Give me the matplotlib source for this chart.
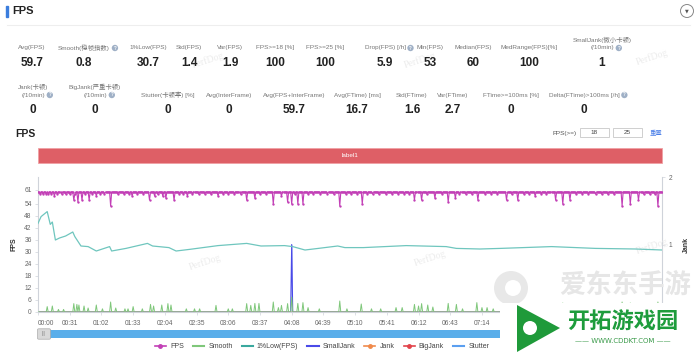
import numpy as np
import matplotlib
matplotlib.use('Agg')
import matplotlib.pyplot as plt
from matplotlib.lines import Line2D
from matplotlib.patches import Rectangle, Circle, Polygon, FancyBboxPatch
from matplotlib.transforms import IdentityTransform

plt.rcParams['font.family'] = ['Liberation Sans', 'Noto Sans CJK SC']

W, H = 700, 354

# ---- stats panel ----
row1_labels = ['Avg(FPS)', 'Smooth(稳帧指数)', '1%Low(FPS)', 'Std(FPS)', 'Var(FPS)', 'FPS>=18 [%]',
               'FPS>=25 [%]', 'Drop(FPS) [/h]', 'Min(FPS)', 'Median(FPS)', 'MedRange(FPS)[%]',
               'SmallJank(微小卡顿)\n(/10min)']
row1_values = ['59.7', '0.8', '30.7', '1.4', '1.9', '100', '100', '5.9', '53', '60', '100', '1']
row1_help = [False, True, False, False, False, False, False, True, False, False, False, True]
row1_x = [32, 84, 148, 189, 230, 275, 325, 385, 430, 473, 529, 602]

row2_labels = ['Jank(卡顿)\n(/10min)', 'BigJank(严重卡顿)\n(/10min)', 'Stutter(卡顿率) [%]', 'Avg(InterFrame)',
               'Avg(FPS+InterFrame)', 'Avg(FTime) [ms]', 'Std(FTime)', 'Var(FTime)', 'FTime>=100ms [%]',
               'Delta(FTime)>100ms [/h]']
row2_values = ['0', '0', '0', '0', '59.7', '16.7', '1.6', '2.7', '0', '0']
row2_help = [True, True, False, False, False, False, False, False, False, True]
row2_x = [33, 95, 168, 229, 294, 357, 412, 453, 511, 584]

# ---- time series (one point per second) ----
n_sec = 611
fps_base = 60
small_dip_t = [2, 5, 8, 13, 19, 23, 27, 31, 36, 46, 53, 61, 65, 78, 84, 89, 97, 103, 117, 138, 142,
               151, 157, 163, 169, 181, 186, 192, 198, 217, 223, 251, 264, 269, 276, 283, 289, 301,
               306, 312, 322, 327, 333, 340, 346, 352, 358, 363, 380, 395, 412, 418, 424, 437, 443,
               449, 463, 475, 480, 492, 497, 526, 532, 538, 545, 551, 557, 563, 592, 598, 603]
small_dip_v = 59
dip_t = [10, 16, 35, 39, 43, 50, 57, 71, 92, 109, 114, 122, 125, 133, 146, 176, 204, 212, 230, 238,
         244, 248, 254, 259, 295, 317, 368, 375, 388, 401, 408, 430, 458, 469, 486, 506, 513, 520,
         571, 579, 587, 606]
dip_v = [59, 58, 56, 55, 56, 56, 58, 53, 58, 56, 58, 58, 57, 56, 58, 58, 56, 57, 54, 58,
         55, 54, 54, 54, 53, 54, 56, 56, 57, 55, 57, 56, 56, 56, 58, 56, 54, 56,
         53, 54, 56, 53]

low_t = [0, 3, 9, 12, 14, 17, 21, 27, 34, 36, 42, 49, 57, 70, 72, 86, 107, 112, 128, 135, 148, 176,
         204, 218, 241, 249, 261, 274, 293, 300, 318, 360, 399, 409, 432, 452, 502, 545, 584, 610]
low_v = [44.3, 47.7, 50.2, 43.8, 45, 36, 37, 38, 40, 37.7, 33, 32.7, 30.5, 32.7, 30.5, 31.8, 34.3,
         33, 32.2, 30.5, 31.3, 33.2, 34.3, 33, 33.2, 32.7, 31, 31.8, 33, 32.2, 32.2, 33.2, 32.7,
         31.8, 31.5, 31.8, 32.7, 31.8, 31.5, 31]

smooth_t = [9, 14, 20, 25, 35, 38, 40, 45, 49, 57, 63, 71, 76, 85, 88, 93, 102, 110, 113, 121, 127,
            130, 145, 153, 158, 174, 186, 190, 204, 208, 212, 216, 230, 235, 238, 244, 248, 254,
            259, 264, 275, 295, 302, 316, 326, 335, 350, 356, 368, 372, 375, 381, 386, 401, 409,
            415, 429, 434, 439, 445, 458, 466, 469, 478, 486, 494, 506, 513, 520, 530, 545, 556,
            571, 579, 587, 597, 606]
smooth_v = [2.7, 3, 1.3, 1.3, 4.2, 3.8, 3.5, 3, 2, 3.5, 1.6, 5, 2, 1.6, 1.6, 2.7, 1.6, 3.8, 3,
            3.5, 4.2, 3.5, 1.6, 1.6, 1.6, 3.3, 1.6, 1.6, 4.2, 3.3, 4.3, 4.3, 5, 2.2, 3.3, 4.2, 7.5,
            4.3, 4.7, 2.2, 1.6, 5.5, 1.6, 4, 1.6, 1.6, 2.2, 2.2, 3.8, 3, 4.2, 3.5, 2.5, 4.3, 3.8,
            1.6, 4.7, 2.2, 2.2, 1.6, 3.5, 2, 3.5, 2, 2.5, 1.6, 3.5, 4.5, 3.5, 2, 2.5, 2, 5, 4.5, 3.5,
            2, 5]

smalljank_t = [248]
smalljank_v = [1]

tick_sec = list(range(0, 600, 31))
tick_lab = ['%02d:%02d' % (s // 60, s % 60) for s in tick_sec]

t = np.arange(n_sec)
fps = np.full(n_sec, float(fps_base))
fps[small_dip_t] = small_dip_v
fps[dip_t] = dip_v
smooth = np.zeros(n_sec)
smooth[smooth_t] = smooth_v
smalljank = np.zeros(n_sec)
smalljank[smalljank_t] = smalljank_v
zeros = np.zeros(n_sec)

c_fps = '#c23fb6'
c_smooth = '#7fc77a'
c_low = '#6fc6be'
c_small = '#4a4ae8'
c_jank = '#f08a4b'
c_big = '#e2434b'
c_stut = '#5b9ff0'

fig = plt.figure(figsize=(7, 3.54), dpi=100)
renderer = fig.canvas.get_renderer()


def px(x, y):
    return x / W, 1 - y / H


# header
fig.add_artist(Rectangle(px(6, 17), 2 / W, 11 / H, color='#3b7ddd', transform=fig.transFigure))
fig.text(*px(12, 11), 'FPS', fontsize=8, fontweight='bold', va='center', color='#222')
fig.add_artist(Line2D([7 / W, 690 / W], [1 - 25 / H] * 2, color='#eeeeee', lw=0.8))
fig.add_artist(Circle((687, H - 11), 6.5, transform=IdentityTransform(), fc='white', ec='#888', lw=0.7))
fig.text(*px(687, 11), '▼', fontsize=3.5, ha='center', va='center', color='#555', family='DejaVu Sans')


def stat(x, ylab, yval, lab, val, helpq):
    lines = lab.split('\n')
    y0 = ylab - 4 * (len(lines) - 1)
    for i, ln in enumerate(lines):
        txt = fig.text(*px(x, y0 + 8 * i), ln, fontsize=4.6, ha='center', va='center', color='#777')
    if helpq:
        wl = txt.get_window_extent(renderer).width
        fig.text(*px(x + wl / 2 + 5, y0 + 8 * (len(lines) - 1)), '?', fontsize=3.3, ha='center',
                 va='center', color='white', fontweight='bold',
                 bbox=dict(boxstyle='circle,pad=0.15', fc='#9fb0c6', ec='none'))
    fig.text(*px(x, yval), val, fontsize=8.5, ha='center', va='center', color='#222', fontweight='bold')


for x, lab, val, hq in zip(row1_x, row1_labels, row1_values, row1_help):
    stat(x, 44 if '\n' in lab else 48, 63, lab, val, hq)
for x, lab, val, hq in zip(row2_x, row2_labels, row2_values, row2_help):
    stat(x, 91 if '\n' in lab else 95, 110, lab, val, hq)

# chart section header
fig.text(*px(15, 134), 'FPS', fontsize=7.5, fontweight='bold', va='center', color='#222')
fig.text(*px(577, 133), 'FPS(>=)', fontsize=4.6, ha='right', va='center', color='#555')
for bx, bv in [(580, '18'), (613, '25')]:
    fig.add_artist(Rectangle(px(bx, 137), 29 / W, 9 / H, transform=fig.transFigure, fc='white',
                             ec='#c8c8c8', lw=0.6))
    fig.text(*px(bx + 14.5, 132.5), bv, fontsize=4.6, ha='center', va='center', color='#444')
fig.text(*px(650, 133), '重置', fontsize=4.6, va='center', color='#4a7ee8')

# label bar
fig.add_artist(Rectangle(px(38, 163), 624 / W, 15 / H, transform=fig.transFigure, fc='#de5f66',
                         ec='#f0a0a4', lw=0.6))
fig.text(*px(350, 155.5), 'label1', fontsize=4.6, ha='center', va='center', color='white')

# main plot
ax = fig.add_axes([38 / W, 1 - 312 / H, 624 / W, 135 / H])
ax2 = ax.twinx()
ax.set_zorder(ax2.get_zorder() + 1)
ax.patch.set_visible(False)

ax.plot(t, fps, color=c_fps, lw=0.8, marker='o', ms=1.7, mew=0, zorder=5)
ax.plot(t, smooth, color=c_smooth, lw=0.7, zorder=3)
ax.plot(low_t, low_v, color=c_low, lw=0.9, zorder=4)

ax2.fill_between(t, smalljank, color='#b5c3f8', alpha=0.9, step='mid', lw=0)
ax2.plot(t, smalljank, color=c_small, lw=0.8)
ax2.plot(t, zeros, color=c_stut, lw=0.8)
ax2.plot(t, zeros, color=c_big, lw=1.0)
ax2.plot(t, zeros, color=c_jank, lw=1.0)

ax.set_xlim(0, n_sec - 1)
ax.set_ylim(0, 67.5)
ax2.set_ylim(0, 2)
ax.set_yticks([0, 6, 12, 18, 24, 30, 36, 42, 48, 54, 61])
ax2.set_yticks([0, 1, 2])
ax2.set_yticklabels(['', '1', '2'])  # the 0 sits under the site watermark
ax.set_xticks(tick_sec)
ax.set_xticklabels(tick_lab)
ax.get_xticklabels()[0].set_horizontalalignment('left')
# labels past 07:14 sit under the site watermark in the screenshot
for s, lab in zip(tick_sec, ax.get_xticklabels()):
    if s > 440:
        lab.set_visible(False)

for a in (ax, ax2):
    for s in a.spines.values():
        s.set_visible(False)
    a.tick_params(labelsize=4.8, colors='#666', length=2.5, width=0.5, pad=2)
ax.spines['left'].set_visible(True)
ax.spines['left'].set_color('#cfd3da')
ax2.spines['right'].set_visible(True)
ax2.spines['right'].set_color('#cfd3da')
ax.spines['bottom'].set_visible(True)
ax.spines['bottom'].set_color('#cfd3da')
ax.tick_params(axis='y', colors='#cfd3da', labelcolor='#666')
ax2.tick_params(axis='y', colors='#cfd3da', labelcolor='#666')
ax.tick_params(axis='x', colors='#cfd3da', labelcolor='#666', pad=3)
ax.set_ylabel('FPS', fontsize=5, fontweight='bold', labelpad=5, color='#333')
ax2.set_ylabel('Jank', fontsize=5, fontweight='bold', labelpad=8, color='#333')

# data zoom slider
fig.add_artist(Rectangle(px(38, 338), 624 / W, 8 / H, transform=fig.transFigure, fc='#5aaeea', ec='none'))
fig.add_artist(FancyBboxPatch(px(39, 338.5), 10 / W, 9 / H, boxstyle='round,pad=0.002',
                              transform=fig.transFigure, fc='#d9d9d9', ec='#aaaaaa', lw=0.5))
fig.text(*px(44, 333.5), '|||', fontsize=3.5, ha='center', va='center', color='#777')

# legend
handles = [Line2D([], [], color=c_fps, marker='o', ms=2.5, lw=1.2),
           Line2D([], [], color=c_smooth, lw=1.5),
           Line2D([], [], color='#3aa89e', lw=1.5),
           Line2D([], [], color=c_small, lw=1.5),
           Line2D([], [], color=c_jank, marker='o', ms=2.5, lw=1.2),
           Line2D([], [], color=c_big, marker='o', ms=2.5, lw=1.2),
           Line2D([], [], color=c_stut, lw=1.5)]
names = ['FPS', 'Smooth', '1%Low(FPS)', 'SmallJank', 'Jank', 'BigJank', 'Stutter']
fig.legend(handles, names, loc='center', bbox_to_anchor=(322 / W, 1 - 347 / H), ncol=7, frameon=False,
           fontsize=5, handlelength=1.6, columnspacing=1.3, handletextpad=0.6, labelcolor='#444')

# watermarks
for wx, wy in [(208, 60), (420, 60), (652, 57), (205, 262), (430, 258), (652, 246)]:
    fig.text(*px(wx, wy), 'PerfDog', fontsize=7, rotation=18, ha='center', va='center',
             color='#ececec', family='Liberation Serif', zorder=0)
fig.add_artist(Circle((511, H - 288), 17, transform=IdentityTransform(), fc='#e8e8e8', ec='none', zorder=1))
fig.add_artist(Circle((513, H - 288), 8, transform=IdentityTransform(), fc='white', ec='none', zorder=1))
fig.text(*px(625, 285), '爱东东手游', fontsize=19, fontweight='bold', ha='center', va='center',
         color='#e6e6e6', zorder=1)
fig.add_artist(Rectangle(px(500, 354), 200 / W, 51 / H, transform=fig.transFigure, fc='white', ec='none',
                         zorder=20))
fig.add_artist(Polygon([(517, H - 305), (560, H - 328), (517, H - 352)], closed=True,
                       transform=IdentityTransform(), fc='#1f9a3a', ec='none', zorder=21))
fig.add_artist(Circle((530, H - 328), 7, transform=IdentityTransform(), fc='white', ec='none', zorder=22))
fig.text(*px(623, 323), '开拓游戏园', fontsize=16, fontweight='bold', ha='center', va='center',
         color='#1e9c3c', zorder=22)
fig.text(*px(623, 341), '—— WWW.CDDKT.COM ——', fontsize=5, ha='center', va='center',
         color='#3a9a4a', zorder=22, family='DejaVu Sans')

fig.savefig('out.png', dpi=100)
